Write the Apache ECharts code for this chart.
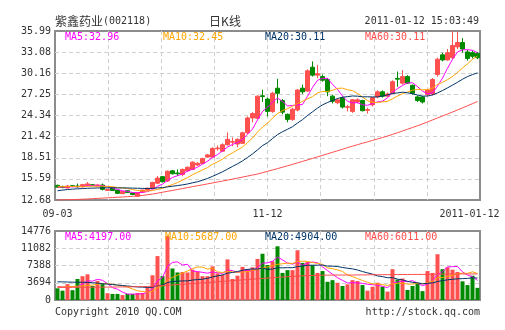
<!DOCTYPE html>
<html><head><meta charset="utf-8">
<script src="https://cdn.jsdelivr.net/npm/echarts@6/dist/echarts.min.js"></script>
<style>html,body{margin:0;padding:0;background:#fff}#c{width:505px;height:330px}</style>
</head><body><div id="c"></div>
<script>
// ---------- DATA ----------
const dates = ['09-03','09-06','09-07','09-08','09-09','09-10','09-13','09-14','09-15','09-16',
'09-17','09-20','09-21','09-27','09-28','09-29','09-30','10-08','10-11','10-12',
'10-13','10-14','10-15','10-18','10-19','10-20','10-21','10-22','10-25','10-26',
'10-27','10-28','10-29','11-01','11-02','11-03','11-04','11-05','11-08','11-09',
'11-10','11-11','11-12','11-15','11-16','11-17','11-18','11-19','11-22','11-23',
'11-24','11-25','11-26','11-29','11-30','12-01','12-02','12-03','12-06','12-07',
'12-08','12-09','12-10','12-13','12-14','12-15','12-16','12-17','12-20','12-21',
'12-22','12-23','12-24','12-27','12-28','12-29','12-30','12-31','01-04','01-05',
'01-06','01-07','01-10','01-11','01-12'];
const openP = [14.70,14.55,14.35,14.65,14.60,14.50,14.65,14.80,14.60,14.75,
14.00,14.35,14.05,13.55,13.95,13.65,13.20,13.75,14.05,14.30,
15.00,15.90,15.30,16.70,16.40,16.20,16.70,16.90,17.50,17.70,
18.60,18.60,19.75,19.40,20.30,20.65,20.40,20.50,21.95,24.00,
23.95,27.05,26.60,24.90,28.10,26.40,24.50,23.80,25.10,28.10,
27.70,31.00,29.90,29.70,29.30,27.00,26.10,26.75,25.45,24.90,
26.20,26.40,25.05,25.80,26.90,27.60,27.00,27.40,29.45,28.80,
29.70,28.50,26.90,26.90,27.20,27.30,30.00,32.70,32.00,32.30,
33.80,34.40,33.10,33.00,32.90];
const closeP = [14.45,14.40,14.60,14.55,14.50,14.80,14.90,14.65,14.75,14.15,
14.15,14.00,13.60,13.85,13.70,13.45,13.70,14.05,14.30,15.10,
15.70,15.20,16.65,16.30,16.30,16.90,17.20,17.90,17.75,18.40,
18.90,19.80,19.85,20.30,21.05,20.75,21.05,21.95,24.00,24.60,
27.00,26.95,24.90,27.40,27.40,24.80,23.80,25.20,27.85,27.60,
30.50,29.90,30.10,29.20,27.60,26.30,26.50,25.50,25.55,26.50,
26.50,25.00,25.15,26.80,27.60,27.00,27.30,29.00,29.35,29.70,
28.80,27.40,26.40,26.20,27.85,29.30,32.10,32.00,33.00,34.00,
34.40,33.50,32.20,32.50,32.30];
const lowP = [14.35,14.30,14.25,14.45,14.40,14.40,14.55,14.60,14.55,14.00,
13.95,13.95,13.50,13.50,13.65,13.35,13.15,13.70,13.95,14.25,
14.90,15.10,15.20,16.20,16.00,15.95,16.60,16.80,17.40,17.65,
18.50,18.50,19.50,19.30,20.20,20.10,19.95,20.40,21.80,23.40,
23.80,26.20,24.20,24.70,26.00,24.50,23.40,23.60,24.90,27.30,
27.60,29.70,29.50,29.00,27.00,26.00,25.90,25.30,24.90,24.70,
26.00,24.90,24.60,25.60,26.70,26.80,26.90,27.30,28.30,28.60,
28.70,27.20,26.20,26.00,27.00,27.10,29.70,31.80,31.90,32.10,
33.50,33.00,31.90,32.20,32.10];
const highP = [14.80,14.65,14.75,14.70,14.95,14.90,15.15,14.85,14.85,14.95,
14.20,14.50,14.10,13.90,14.00,13.70,13.75,14.10,14.40,15.20,
16.00,16.00,16.75,16.80,16.90,17.00,17.30,18.00,17.90,18.50,
19.00,19.95,20.20,20.50,22.00,21.30,21.20,22.10,24.20,24.80,
27.10,27.90,26.80,27.60,29.40,26.60,24.60,25.40,28.00,28.60,
30.70,31.80,31.30,30.00,29.50,27.20,26.70,26.90,25.80,26.60,
26.70,26.50,25.40,26.90,27.80,27.80,27.50,29.20,30.40,30.60,
29.90,28.60,27.10,27.00,28.00,29.50,32.30,33.00,33.50,35.99,
35.90,35.00,33.40,33.30,33.10];
const ma5 = [14.45,14.47,14.49,14.50,14.50,14.57,14.67,14.68,14.72,14.65,
14.52,14.34,14.13,13.95,13.86,13.72,13.66,13.75,13.84,14.12,
14.57,14.87,15.39,15.79,16.03,16.27,16.67,16.92,17.21,17.63,
18.03,18.55,18.94,19.45,19.98,20.35,20.60,21.02,21.76,22.47,
23.72,24.90,25.49,26.17,26.73,26.29,25.66,25.72,25.81,25.85,
26.99,28.21,29.19,29.46,29.46,28.62,27.94,27.02,26.29,26.07,
26.11,25.81,25.74,25.99,26.21,26.31,26.77,27.54,28.05,28.47,
28.83,28.85,28.33,27.70,27.33,27.43,28.37,29.49,30.85,32.08,
33.10,33.38,33.42,33.32,32.98];
const ma10 = [14.50,14.52,14.53,14.55,14.55,14.56,14.58,14.59,14.59,14.58,
14.55,14.51,14.41,14.34,14.26,14.12,14.00,13.94,13.90,13.99,
14.15,14.27,14.57,14.82,15.08,15.42,15.77,16.16,16.50,16.83,
17.15,17.61,17.93,18.33,18.81,19.19,19.58,19.98,20.61,21.23,
22.04,22.75,23.26,23.97,24.60,25.01,25.28,25.61,25.99,26.29,
26.64,26.94,27.46,27.64,27.66,27.81,28.08,28.11,27.88,27.77,
27.37,26.88,26.38,26.14,26.14,26.21,26.29,26.64,27.02,27.34,
27.57,27.81,27.94,27.88,27.90,28.13,28.61,28.91,29.28,29.71,
30.27,30.88,31.46,32.09,32.53];
const ma20 = [13.95,14.05,14.12,14.18,14.22,14.26,14.30,14.32,14.34,14.35,
14.36,14.36,14.35,14.35,14.34,14.32,14.30,14.28,14.27,14.28,
14.35,14.39,14.49,14.58,14.67,14.77,14.89,15.05,15.20,15.41,
15.65,15.94,16.25,16.57,16.94,17.31,17.67,18.07,18.55,19.03,
19.59,20.18,20.59,21.15,21.70,22.10,22.43,22.79,23.30,23.76,
24.34,24.84,25.36,25.80,26.13,26.41,26.68,26.86,26.93,27.03,
27.00,26.91,26.92,26.89,26.90,27.01,27.18,27.37,27.45,27.55,
27.47,27.34,27.16,27.01,27.02,27.17,27.45,27.78,28.15,28.52,
28.92,29.34,29.70,29.98,30.22];
const ma60 = [12.68,12.70,12.72,12.74,12.76,12.79,12.82,12.86,12.90,12.94,
12.98,13.02,13.06,13.10,13.14,13.19,13.25,13.31,13.40,13.50,
13.62,13.75,13.88,14.00,14.13,14.26,14.39,14.52,14.65,14.77,
14.90,15.03,15.16,15.29,15.42,15.56,15.70,15.84,15.98,16.12,
16.27,16.45,16.63,16.82,17.01,17.20,17.40,17.60,17.80,18.00,
18.21,18.42,18.63,18.84,19.05,19.26,19.47,19.68,19.90,20.11,
20.31,20.51,20.70,20.90,21.10,21.30,21.50,21.73,21.96,22.20,
22.44,22.68,22.92,23.18,23.45,23.72,23.99,24.26,24.54,24.82,
25.10,25.39,25.68,25.97,26.27];
const volume = [2500,2000,3400,2100,4500,5100,5500,3000,4100,3400,
1450,1300,1300,1050,1300,1300,1500,1500,2700,5300,
9400,5100,13700,6750,5900,6000,5900,6500,6100,5100,
5100,7200,5700,5400,8700,4500,5200,7100,6600,7000,
8800,9900,7500,8300,11500,5800,6400,6400,10650,7950,
8150,7450,5800,6200,3900,4250,3700,3000,3350,4250,
4050,3200,2000,2850,3700,2850,1800,6600,4400,4600,
2150,3000,3700,1900,6200,5800,9800,6600,7000,6500,
6000,4000,3200,5200,2600];
const volMa5 = [2900,2800,2800,2850,2900,3420,4120,4040,4440,4220,
3490,2650,2310,1700,1280,1250,1290,1330,1660,2460,
4080,4800,7240,8050,8170,7490,7650,6210,6080,5920,
5740,6000,5840,5700,6420,6300,5900,6180,6420,6080,
6940,7880,7960,8300,9200,8600,7900,7680,8150,7440,
7910,8120,8000,7110,6300,5520,4770,4210,3640,3710,
3670,3570,3370,3270,3160,2920,2640,3560,3870,4050,
3910,4150,3570,3070,3390,4120,5480,6060,7080,7140,
7180,6020,5340,4980,4200];
const volMa10 = [2800,2800,2850,2900,2950,3000,3100,3200,3350,3560,
3455,3385,3175,3070,2750,2370,1970,1820,1680,1870,
2665,3045,4285,4855,5315,5785,6225,6725,7065,7045,
6615,6825,6025,5890,6170,6020,5950,6010,6060,6250,
6620,6890,7070,7360,7640,7770,7890,7820,8225,8320,
8255,8010,7840,7630,6870,6715,6445,6105,5375,5005,
4595,4170,3790,3455,3435,3295,3105,3465,3570,3605,
3415,3395,3565,3470,3720,4015,4815,4815,5075,5265,
5650,5750,5700,6030,5670];
const volMa20 = [3900,3880,3850,3820,3800,3800,3780,3700,3600,3500,
3400,3300,3200,3100,3000,2900,2800,2750,2700,2715,
3060,3215,3730,3963,4033,4078,4098,4273,4373,4458,
4640,4935,5155,5373,5743,5903,6088,6368,6563,6648,
6618,6858,6548,6625,6905,6895,6920,6915,7143,7285,
7438,7450,7455,7495,7255,7243,7168,6963,6800,6663,
6425,6090,5815,5543,5153,5005,4775,4785,4473,4305,
4005,3783,3678,3463,3578,3655,3960,4140,4323,4435,
4533,4573,4633,4750,4695];
const volMa60 = [2700,2700,2710,2710,2720,2720,2730,2740,2750,2760,
2770,2780,2790,2800,2810,2830,2850,2870,2900,2940,
3000,3060,3150,3230,3300,3380,3450,3520,3600,3670,
3740,3820,3900,3980,4060,4140,4220,4300,4380,4460,
4540,4620,4700,4780,4860,4930,5000,5060,5120,5170,
5220,5260,5290,5310,5330,5340,5350,5350,5350,5342,
5368,5380,5390,5400,5410,5420,5420,5440,5450,5460,
5460,5470,5480,5480,5490,5500,5520,5540,5550,5560,
5570,5575,5580,5582,5584];
const priceTickLabels = ['12.68','15.59','18.51','21.42','24.34','27.25','30.16','33.08','35.99'];
const volTickLabels = ['0','3694','7388','11082','14776'];
const xTickIndex = [0, 42, 84];
const xTickText = ['09-03', '11-12', '2011-01-12'];
const titleName = '紫鑫药业';
const titleCode = '(002118)';
const titleMid = '日K线';
const titleTime = '2011-01-12 15:03:49';
const priceMaText = ['MA5:32.96', 'MA10:32.45', 'MA20:30.11', 'MA60:30.11'];
const volMaText = ['MA5:4197.00', 'MA10:5687.00', 'MA20:4904.00', 'MA60:6011.00'];

// ---------- STYLE ----------
const RED = '#ff5050', GREEN = '#008a00';
const C_MA5 = '#ff00ff', C_MA10 = '#ffa500', C_MA20 = '#003366', C_MA60 = '#ff4d4d';
const MONO = '"DejaVu Sans Mono", monospace';
const CJK = '"Noto Sans CJK SC", sans-serif';
const TXT = '#333';
const GRID_LINE = {color: '#d0d0d0', width: 1, type: [4, 3]};

const candleData = openP.map((o, i) => [o, closeP[i], lowP[i], highP[i]]);
const volData = volume.map((v, i) => ({
  value: v,
  itemStyle: {color: closeP[i] >= openP[i] ? RED : GREEN}
}));

function maLine(data, color, xi, yi) {
  return {type: 'line', data, xAxisIndex: xi, yAxisIndex: yi, symbol: 'none', showSymbol: false,
    silent: true, animation: false, lineStyle: {color, width: 1}, z: 5};
}

const chart = echarts.init(document.getElementById('c'), null, {renderer: 'canvas', width: 505, height: 330});
const maX = [65, 163, 265, 365];
const vmaX = [65, 165, 265, 365];
const maColors = [C_MA5, C_MA10, C_MA20, C_MA60];
const graphics = [
  {type: 'text', x: 55, y: 21, style: {text: titleName, font: '12px ' + CJK, fill: TXT, textVerticalAlign: 'middle'}},
  {type: 'text', x: 103, y: 21, style: {text: titleCode, font: '10px ' + MONO, fill: TXT, textVerticalAlign: 'middle'}},
  {type: 'text', x: 225, y: 21, style: {text: titleMid, font: '12px ' + CJK, fill: TXT, textAlign: 'center', textVerticalAlign: 'middle'}},
  {type: 'text', x: 479, y: 21, style: {text: titleTime, font: '10px ' + MONO, fill: TXT, textAlign: 'right', textVerticalAlign: 'middle'}},
  {type: 'text', x: 55, y: 312, style: {text: 'Copyright 2010 QQ.COM', font: '10px ' + MONO, fill: TXT, textVerticalAlign: 'middle'}},
  {type: 'text', x: 480, y: 312, style: {text: 'http://stock.qq.com', font: '10px ' + MONO, fill: TXT, textAlign: 'right', textVerticalAlign: 'middle'}}
];
priceMaText.forEach((t, k) => graphics.push({type: 'text', x: maX[k], y: 37, z: 10,
  style: {text: t, font: '10px ' + MONO, fill: maColors[k], textVerticalAlign: 'middle'}}));
volMaText.forEach((t, k) => graphics.push({type: 'text', x: vmaX[k], y: 237, z: 10,
  style: {text: t, font: '10px ' + MONO, fill: maColors[k], textVerticalAlign: 'middle'}}));

const hiddenCat = {show: true, axisLine: {show: false}, axisTick: {show: false}, axisLabel: {show: false}, splitLine: {show: false}};
const vertGrid = (gi) => ({type: 'value', gridIndex: gi, min: 0, max: 8, interval: 1,
  axisLine: {show: false}, axisTick: {show: false}, axisLabel: {show: false},
  splitLine: {show: true, showMinLine: false, showMaxLine: false, lineStyle: GRID_LINE}});

chart.setOption({
  animation: false,
  backgroundColor: '#fff',
  grid: [
    {left: 55, top: 31, width: 425, height: 169, show: true, borderColor: '#8c8c8c', borderWidth: 2, backgroundColor: 'rgba(0,0,0,0)'},
    {left: 55, top: 231, width: 425, height: 69, show: true, borderColor: '#8c8c8c', borderWidth: 2, backgroundColor: 'rgba(0,0,0,0)'}
  ],
  xAxis: [
    {type: 'category', gridIndex: 0, data: dates, boundaryGap: true,
      axisLine: {show: false}, axisTick: {show: false}, splitLine: {show: false},
      axisLabel: {
        interval: (idx) => xTickIndex.indexOf(idx) >= 0,
        margin: 9, color: TXT, fontFamily: MONO, fontSize: 10,
        formatter: (v, idx) => {
          const k = xTickIndex.indexOf(idx);
          if (k < 0) return '';
          return k === xTickIndex.length - 1 ? '{last|' + xTickText[k] + '}' : xTickText[k];
        },
        rich: {last: {fontFamily: MONO, fontSize: 10, color: TXT, padding: [0, 16, 0, 0]}}
      }},
    Object.assign({type: 'category', gridIndex: 1, data: dates, boundaryGap: true}, hiddenCat),
    vertGrid(0),
    vertGrid(1)
  ],
  yAxis: [
    {type: 'value', gridIndex: 0, min: 12.68, max: 35.99, scale: true,
      axisLine: {show: false}, axisTick: {show: false}, axisLabel: {show: false}, splitLine: {show: false}},
    {type: 'value', gridIndex: 0, min: 0, max: 8, interval: 1, position: 'left',
      axisLine: {show: false}, axisTick: {show: false},
      axisLabel: {margin: 4, color: TXT, fontFamily: MONO, fontSize: 10, formatter: (v) => priceTickLabels[Math.round(v)]},
      splitLine: {show: true, showMinLine: false, showMaxLine: false, lineStyle: GRID_LINE}},
    {type: 'value', gridIndex: 1, min: 0, max: 14776, interval: 3694,
      axisLine: {show: false}, axisTick: {show: false},
      axisLabel: {margin: 4, color: TXT, fontFamily: MONO, fontSize: 10, formatter: (v) => volTickLabels[Math.round(v / 3694)]},
      splitLine: {show: true, showMinLine: false, showMaxLine: false, lineStyle: GRID_LINE}}
  ],
  series: [
    {type: 'candlestick', xAxisIndex: 0, yAxisIndex: 0, data: candleData, barWidth: 4, silent: true,
      itemStyle: {color: RED, color0: GREEN, borderColor: RED, borderColor0: GREEN, borderWidth: 1}, z: 3},
    maLine(ma5, C_MA5, 0, 0),
    maLine(ma10, C_MA10, 0, 0),
    maLine(ma20, C_MA20, 0, 0),
    maLine(ma60, C_MA60, 0, 0),
    {type: 'bar', xAxisIndex: 1, yAxisIndex: 2, data: volData, barWidth: 4, silent: true, z: 3},
    maLine(volMa5, C_MA5, 1, 2),
    maLine(volMa10, C_MA10, 1, 2),
    maLine(volMa20, C_MA20, 1, 2),
    maLine(volMa60, C_MA60, 1, 2)
  ],
  graphic: graphics
});
</script>
</body></html>
